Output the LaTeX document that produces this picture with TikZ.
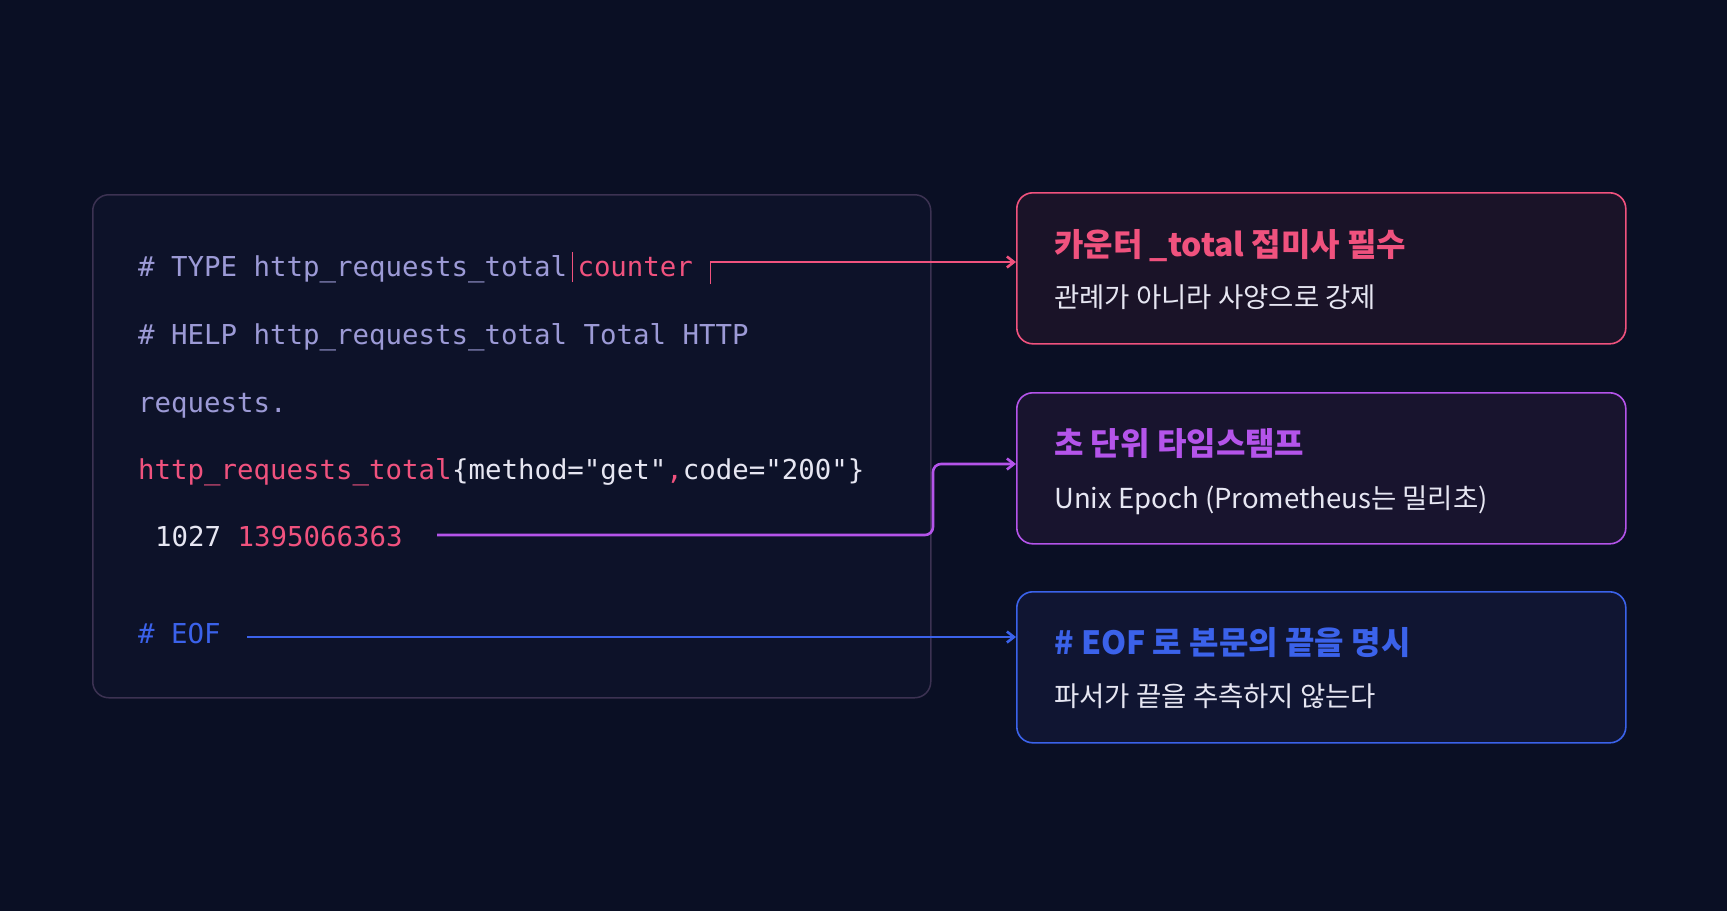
\documentclass[tikz,border=0pt]{standalone}
\usepackage{fontspec}
\setmainfont{Noto Sans CJK KR}
\setmonofont{DejaVu Sans Mono}[Scale=1.0]
\usetikzlibrary{positioning}
\usetikzlibrary{calc}
\usetikzlibrary{arrows.meta}
\definecolor{bg}{HTML}{0A0F24}
\definecolor{codebg}{HTML}{0D1229}
\definecolor{codeframe}{HTML}{3C3252}
\definecolor{lav}{HTML}{9C9AD6}
\definecolor{pinkc}{HTML}{F0527E}
\definecolor{whitec}{HTML}{E6E6F2}
\definecolor{purp}{HTML}{B454EA}
\definecolor{bluec}{HTML}{3B62EA}
\tikzset{
  code/.style={anchor=base west, inner sep=0pt, font=\ttfamily\fontsize{27.4}{27.4}\selectfont},
  card/.style={draw, rounded corners=16pt, line width=1.6pt, minimum width=609pt, minimum height=151pt, anchor=north west},
  title/.style={anchor=base west, inner sep=0pt, font=\bfseries\fontsize{32}{32}\selectfont},
  sub/.style={anchor=base west, inner sep=0pt, text=whitec, font=\fontsize{27.5}{27.5}\selectfont},
  arr/.style={-{Straight Barb[length=7pt,width=11pt]}, line width=2.6pt}
}
\begin{document}
\begin{tikzpicture}[x=1pt,y=-1pt]
    \fill [bg] (0,0) rectangle (1727,911);
    \useasboundingbox (0,0) rectangle (1727,911);
    \node [draw=codeframe, fill=codebg, line width=1.5pt, rounded corners=16pt, minimum width=838pt, minimum height=503pt, anchor=north west] (codebox) at (92,194) {};

    % code lines
    \node [code, text=lav] (l_type) at (138,276) {\# TYPE http\_requests\_total};
    \node [code, text=pinkc, right=10pt of l_type.base east, anchor=base west] (l_counter) {counter};
    \draw [pinkc, line width=1pt] ($(l_type.base east)+(5,6)$) -- ++(0,-30);
    \node [code, text=lav] (l_help) at (138,344) {\# HELP http\_requests\_total Total HTTP};
    \node [code, text=lav] (l_req) at (138,412) {requests.};
    \node [code, text=pinkc] (l_metric) at (138,479) {http\_requests\_total};
    \node [code, text=whitec, anchor=base west] (l_labels) at (l_metric.base east) {\{method="get"\textcolor{pinkc}{,}code="200"\}};
    \node [code, text=whitec] (l_val) at (155,546) {1027};
    \node [code, text=pinkc, right=16pt of l_val.base east, anchor=base west] (l_ts) {1395066363};
    \node [code, text=bluec] (l_eof) at (138,643) {\# EOF};

    % cards
    \node [card, draw=pinkc, fill={rgb,255:red,26;green,19;blue,40}] (c_counter) at (1016,192) {};
    \node [card, draw=purp, fill={rgb,255:red,24;green,20;blue,46}] (c_ts) at (1016,392) {};
    \node [card, draw=bluec, fill={rgb,255:red,16;green,21;blue,50}] (c_eof) at (1016,591) {};

    \node [title, text=pinkc] (t_counter) at (1054,256) {카운터 \_total 접미사 필수};
    \node [sub] (s_counter) at (1054,307) {관례가 아니라 사양으로 강제};
    \node [title, text=purp] (t_ts) at (1054,455) {초 단위 타임스탬프};
    \node [sub] (s_ts) at (1054,508) {Unix Epoch (Prometheus는 밀리초)};
    \node [title, text=bluec] (t_eof) at (1054,654) {\# EOF 로 본문의 끝을 명시};
    \node [sub] (s_eof) at (1054,706) {파서가 끝을 추측하지 않는다};

    % connectors
    \coordinate (a_counter) at (710,262);
    \coordinate (a_ts) at (437,535);
    \coordinate (a_eof) at (247,637);
    \draw [pinkc, line width=1pt] (a_counter) ++(0,22) -- (a_counter);
    \draw [arr, pinkc] (a_counter) -- (a_counter -| c_counter.west);
    \draw [arr, purp, rounded corners=8pt] (a_ts) -- (933,535) -- (933,464) -- (c_ts.west |- 0,464);
    \draw [arr, bluec] (a_eof) -- (a_eof -| c_eof.west);
\end{tikzpicture}
\end{document}
